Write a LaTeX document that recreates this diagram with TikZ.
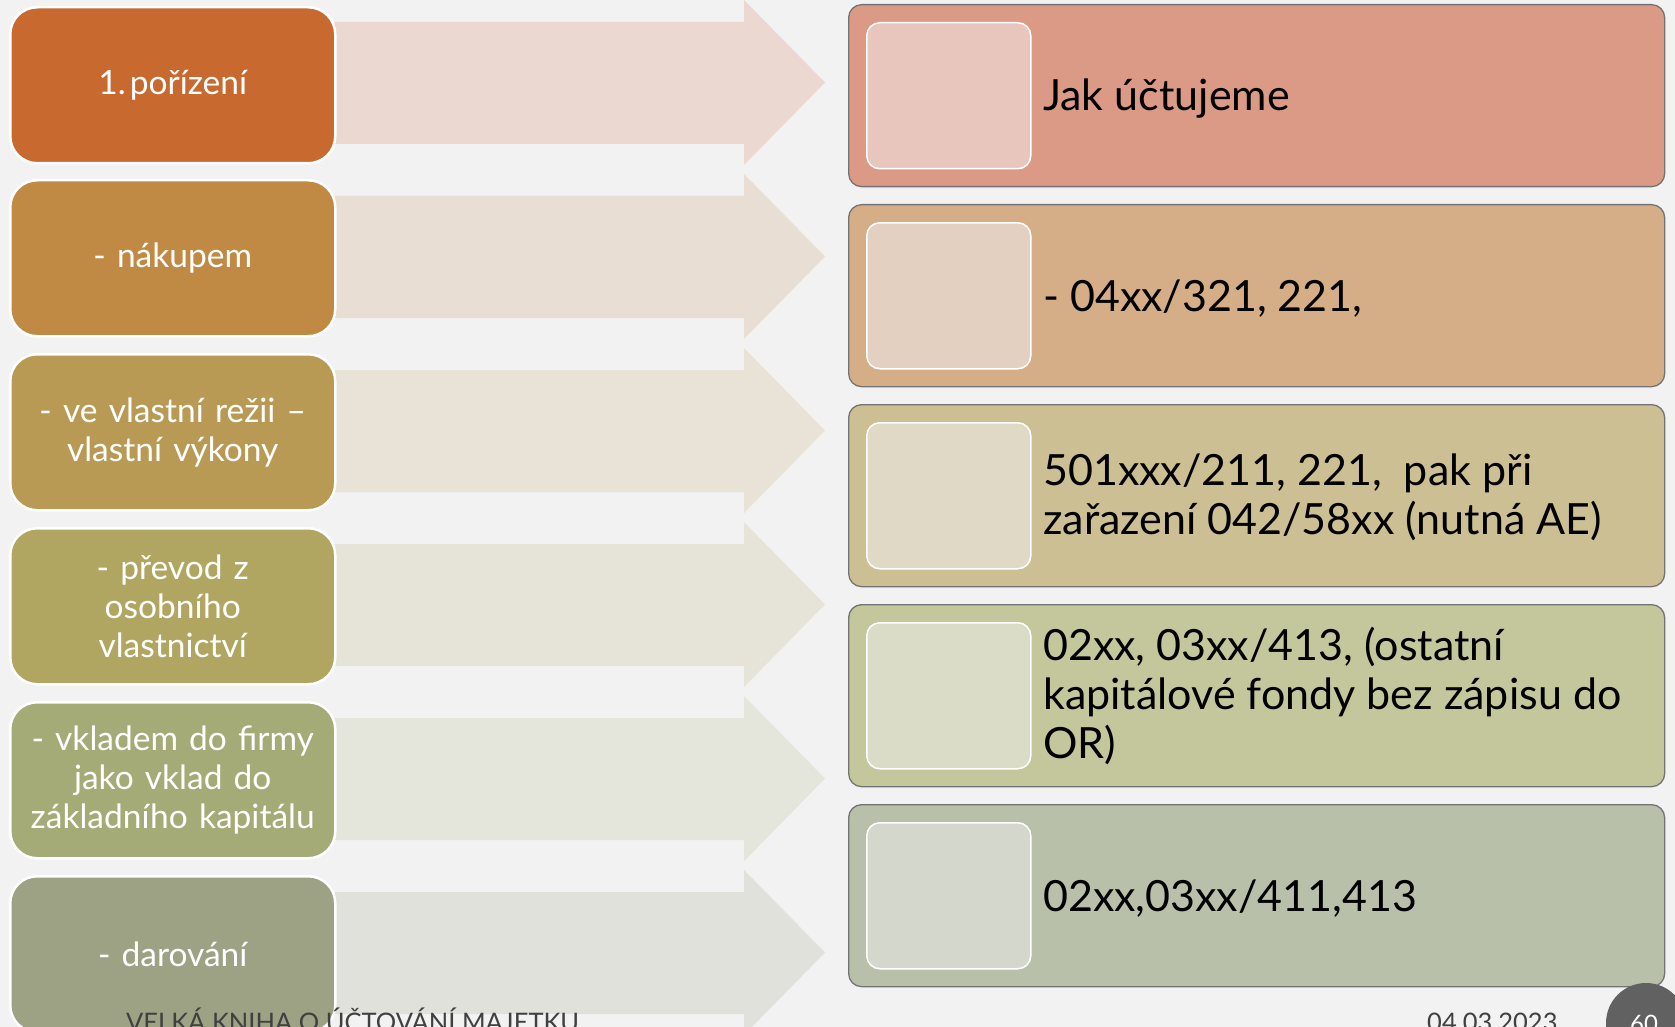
\documentclass[tikz,border=0pt]{standalone}
\usepackage{fontspec}
\setmainfont{Lato}
\usetikzlibrary{positioning}

% palette
\definecolor{bg}{HTML}{F2F2F2}
\definecolor{lA}{HTML}{C86930}
\definecolor{lB}{HTML}{C08A45}
\definecolor{lC}{HTML}{B99A55}
\definecolor{lD}{HTML}{B0A662}
\definecolor{lE}{HTML}{A5AB76}
\definecolor{lF}{HTML}{9CA283}
\definecolor{aA}{HTML}{EBD8D1}
\definecolor{aB}{HTML}{E9DED3}
\definecolor{aC}{HTML}{E8E2D7}
\definecolor{aD}{HTML}{E6E4D8}
\definecolor{aE}{HTML}{E4E5DB}
\definecolor{aF}{HTML}{E0E1DB}
\definecolor{rA}{HTML}{DA9A85}
\definecolor{rB}{HTML}{D5AE88}
\definecolor{rC}{HTML}{CDBF94}
\definecolor{rD}{HTML}{C4C69C}
\definecolor{rE}{HTML}{B9C0AA}
\definecolor{iA}{HTML}{E8C6BE}
\definecolor{iB}{HTML}{E3D0C0}
\definecolor{iC}{HTML}{E0D9C5}
\definecolor{iD}{HTML}{DADCC7}
\definecolor{iE}{HTML}{D4D8CC}
\definecolor{foot}{HTML}{404040}
\definecolor{badge}{HTML}{616161}

\tikzset{
  leftbox/.style={rectangle, rounded corners=27pt, draw=white, line width=2.5pt,
    minimum width=325pt, minimum height=156pt, anchor=north west, inner sep=4pt,
    text=white, align=center, text width=315pt,
    font=\fontsize{33.5}{39}\selectfont},
  rightbox/.style={rectangle, rounded corners=13pt, draw=black!55, line width=1.3pt,
    minimum width=816pt, minimum height=182pt, anchor=north west},
  innerbox/.style={rectangle, rounded corners=13pt, draw=white, line width=1.5pt,
    minimum width=164pt, minimum height=146pt, anchor=north west},
  righttext/.style={anchor=west, align=left, inner sep=0pt, text=black,
    font=\fontsize{43}{49}\selectfont},
  foottext/.style={anchor=base west, inner sep=0pt, text=foot,
    font=\fontsize{25.5}{28}\selectfont},
}

\begin{document}
\begin{tikzpicture}[x=1pt,y=-1pt]
\clip (0,0) rectangle (1675,1027);
\fill[bg] (0,0) rectangle (1675,1027);

% wide arrows behind the left boxes
\foreach \c [count=\i from 0] in {aA,aB,aC,aD,aE,aF}{
  \pgfmathsetmacro{\T}{4+174*\i}
  \fill[\c] (300,\T+18) -- (744,\T+18) -- (744,\T-4) -- (825,\T+78.5)
    -- (744,\T+161) -- (744,\T+140) -- (300,\T+140) -- cycle;
}

% left column
\node[leftbox, fill=lA] (l1) at (9,6)   {1.\hspace{0.12em}pořízení};
\node[leftbox, fill=lB] (l2) at (9,179) {- nákupem};
\node[leftbox, fill=lC] (l3) at (9,353) {- ve vlastní režii –\\vlastní výkony};
\node[leftbox, fill=lD] (l4) at (9,527) {- převod z\\osobního\\vlastnictví};
\node[leftbox, fill=lE] (l5) at (9,701) {- vkladem do firmy\\jako vklad do\\základního kapitálu};
\node[leftbox, fill=lF] (l6) at (9,875) {- darování};

% right column
\node[rightbox, fill=rA] (r1) at (848,4)   {};
\node[rightbox, fill=rB] (r2) at (848,204) {};
\node[rightbox, fill=rC] (r3) at (848,404) {};
\node[rightbox, fill=rD] (r4) at (848,604) {};
\node[rightbox, fill=rE] (r5) at (848,804) {};

\node[innerbox, fill=iA] (s1) at (866,22)  {};
\node[innerbox, fill=iB] (s2) at (866,222) {};
\node[innerbox, fill=iC] (s3) at (866,422) {};
\node[innerbox, fill=iD] (s4) at (866,622) {};
\node[innerbox, fill=iE] (s5) at (866,822) {};

\node[righttext] (t1) at (1043,99)  {Jak účtujeme};
\node[righttext] (t2) at (1043,299) {- 04xx/321, 221,};
\node[righttext] (t3) at (1043,497) {501xxx/211, 221,\ \ pak při\\zařazení 042/58xx (nutná AE)};
\node[righttext] (t4) at (1043,696) {02xx, 03xx/413, (ostatní\\kapitálové fondy bez zápisu do\\OR)};
\node[righttext] (t5) at (1043,899) {02xx,03xx/411,413};

% footer
\node[foottext] (ft) at (126,1031) {VELKÁ KNIHA O ÚČTOVÁNÍ MAJETKU};
\node[foottext] (dt) at (1427,1031) {04.03.2023};
\fill[badge] (1646,1023) circle[radius=40];
\node[anchor=base, inner sep=0pt, text=white, font=\fontsize{24}{28}\selectfont] (pg) at (1644,1032) {60};
\end{tikzpicture}
\end{document}
